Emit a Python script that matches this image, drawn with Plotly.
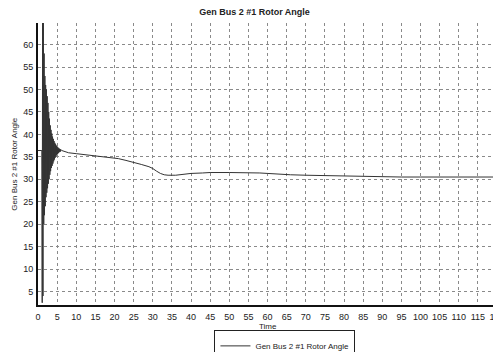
import plotly.graph_objects as go

# ---- data ----
time_s = [0.0, 1.0,
          1.1, 1.2, 1.3, 1.4, 1.5, 1.6, 1.7, 1.8, 1.9, 2.0,
          2.1, 2.2, 2.3, 2.4, 2.5, 2.6, 2.7, 2.8, 2.9, 3.0,
          3.1, 3.2, 3.3, 3.4, 3.5, 3.6, 3.7, 3.8, 3.9, 4.0,
          4.1, 4.2, 4.3, 4.4, 4.5, 4.6, 4.7, 4.8, 4.9, 5.0,
          5.1, 5.2, 5.3, 5.4, 5.5, 5.6, 5.7, 5.8, 5.9, 6.0,
          6.2, 7.0, 8.0, 10.0, 12.0, 15.0, 18.0, 21.0, 23.0, 25.0,
          27.0, 29.0, 30.0, 31.0, 32.0, 33.0, 34.0, 36.0, 38.0, 40.0,
          43.0, 45.0, 50.0, 55.0, 58.0, 60.0, 63.0, 66.0, 70.0, 75.0,
          80.0, 85.0, 90.0, 95.0, 100.0, 110.0, 120.0]
rotor_angle = [36.4, 36.4,
               2.5, 68.0, 4.0, 67.0, 20.0, 58.0, 22.0, 53.0, 24.0, 51.0,
               26.0, 50.0, 27.0, 48.5, 28.0, 47.0, 29.0, 45.0, 30.0, 43.5,
               31.0, 42.0, 31.8, 41.0, 32.5, 40.2, 33.0, 39.5, 33.5, 39.0,
               34.0, 38.5, 34.4, 38.1, 34.8, 37.8, 35.1, 37.5, 35.4, 37.3,
               35.6, 37.1, 35.8, 36.9, 36.0, 36.8, 36.1, 36.7, 36.2, 36.6,
               36.4, 36.1, 35.9, 35.7, 35.5, 35.2, 34.9, 34.6, 34.2, 33.8,
               33.3, 32.8, 32.4, 31.8, 31.3, 31.0, 30.9, 30.9, 31.1, 31.3,
               31.4, 31.5, 31.5, 31.5, 31.4, 31.3, 31.1, 31.0, 30.9, 30.8,
               30.7, 30.6, 30.6, 30.5, 30.5, 30.5, 30.5]
series_name = "Gen Bus 2 #1 Rotor Angle"
chart_title = "Gen Bus 2 #1 Rotor Angle"
x_label = "Time"
y_label = "Gen Bus 2 #1 Rotor Angle"

FONT = "Liberation Sans, Arial, sans-serif"

# The default HTML page has an 8px body margin, so the figure is 8px smaller
# and its margins are reduced by 8px to keep the plot area where the reference has it.
fig = go.Figure()
fig.add_trace(go.Scatter(
    x=time_s, y=rotor_angle, mode="lines", name=series_name,
    line=dict(color="#333333", width=1),
    showlegend=True,
))

fig.update_layout(
    width=493, height=344,
    margin=dict(l=30, r=4, t=15, b=47, autoexpand=False),
    paper_bgcolor="white", plot_bgcolor="white",
    font=dict(family=FONT, size=9, color="#222"),
    title=dict(text="<b>" + chart_title + "</b>", x=0.5, xref="container",
               xanchor="center", y=0.99, yref="container", yanchor="middle",
               font=dict(size=9, family=FONT, color="#222")),
    showlegend=True,
    legend=dict(orientation="h", x=0.538, xanchor="center", y=-0.09, yanchor="top",
                bordercolor="#222", borderwidth=1, bgcolor="white",
                font=dict(size=8, family=FONT, color="#222"),
                itemwidth=30, tracegroupgap=0),
)

fig.update_xaxes(
    range=[0, 120], tick0=0, dtick=5, automargin=False, ticklabeloverflow="allow",
    showline=True, linecolor="#111", linewidth=2,
    showgrid=True, gridcolor="#8a8a8a", griddash="dot", gridwidth=1,
    zeroline=False, ticks="", tickfont=dict(size=9, family=FONT, color="#222"),
    ticklabelstandoff=2,
)
fig.update_yaxes(
    range=[2, 64.8], tick0=0, dtick=5, automargin=False, ticklabeloverflow="allow",
    showline=True, linecolor="#111", linewidth=2,
    showgrid=True, gridcolor="#8a8a8a", griddash="dot", gridwidth=1,
    zeroline=False, ticks="", tickfont=dict(size=9, family=FONT, color="#222"),
    ticklabelstandoff=1,
)

fig.add_annotation(text=x_label, xref="paper", yref="paper", x=0.5, y=-0.078,
                   xanchor="center", yanchor="middle", showarrow=False,
                   font=dict(size=8, family=FONT, color="#222"))
fig.add_annotation(text=y_label, xref="paper", yref="paper", x=-0.053, y=0.5,
                   xanchor="center", yanchor="middle", showarrow=False, textangle=-90,
                   font=dict(size=8, family=FONT, color="#222"))

fig.write_html("out.html")
